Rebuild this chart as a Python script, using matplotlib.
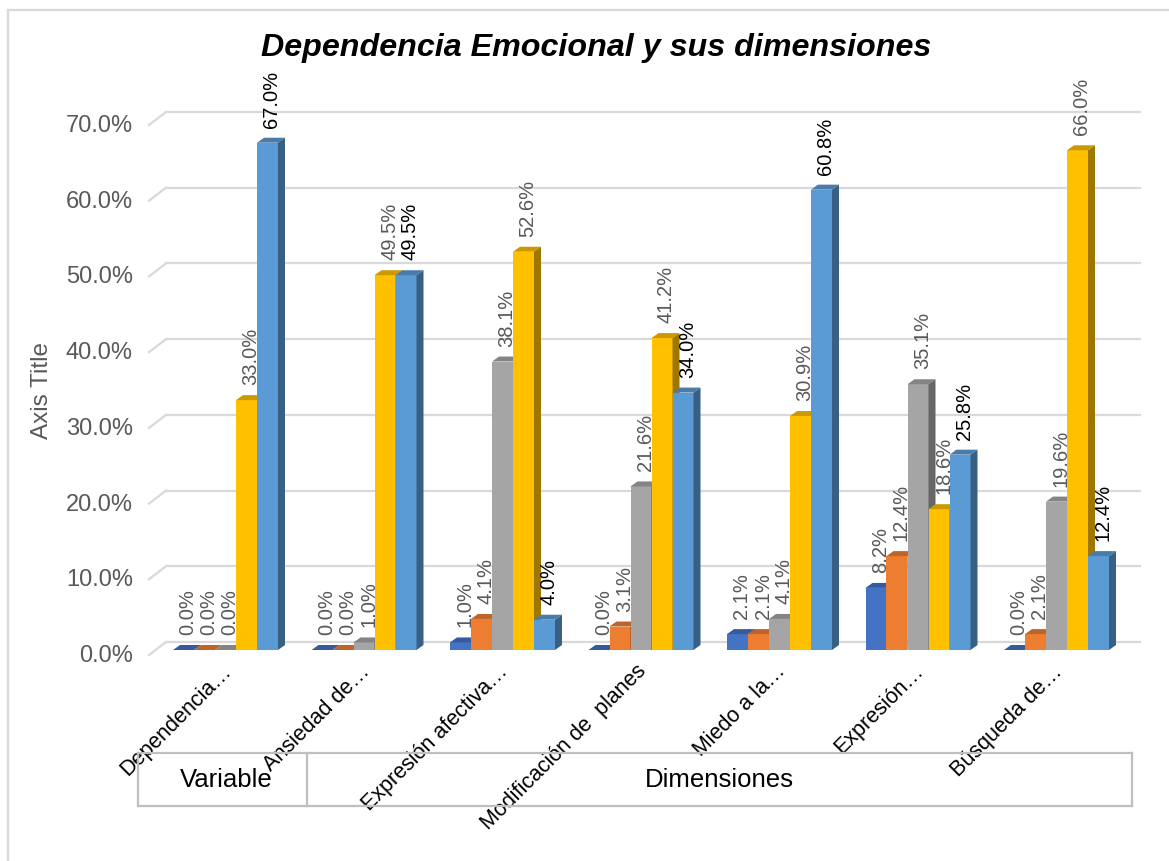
import matplotlib
matplotlib.use("Agg")
import matplotlib.pyplot as plt
from matplotlib.patches import Polygon
from matplotlib.lines import Line2D
import numpy as np

plt.rcParams['font.family'] = ['Liberation Sans', 'DejaVu Sans']

categories = ["Dependencia…", "Ansiedad de…", "Expresión afectiva…",
              "Modificación de  planes", "Miedo a la…", "Expresión…", "Búsqueda de…"]
series_colors = ["#4472C4", "#ED7D31", "#A5A5A5", "#FFC000", "#5B9BD5"]
s1 = [0.0, 0.0, 1.0, 0.0, 2.1, 8.2, 0.0]
s2 = [0.0, 0.0, 4.1, 3.1, 2.1, 12.4, 2.1]
s3 = [0.0, 1.0, 38.1, 21.6, 4.1, 35.1, 19.6]
s4 = [33.0, 49.5, 52.6, 41.2, 30.9, 18.6, 66.0]
s5 = [67.0, 49.5, 4.0, 34.0, 60.8, 25.8, 12.4]
series = [s1, s2, s3, s4, s5]
yticks = [0, 10, 20, 30, 40, 50, 60, 70]
ytick_labels = ["0.0%", "10.0%", "20.0%", "30.0%", "40.0%", "50.0%", "60.0%", "70.0%"]
title = "Dependencia Emocional y sus dimensiones"
ylabel = "Axis Title"
group_labels = ["Variable", "Dimensiones"]

W, H = 1169, 861
fig = plt.figure(figsize=(W / 100, H / 100), dpi=100)

def fx(px):
    return px / W

def fy(py):
    return 1 - py / H

# axes geometry (pixels)
cat0 = 225.5
catw = 138.5
L_px, R_px = 149.0, 1123.0
y0_px, y70_px = 650.0, 120.0
xmin = (L_px - cat0) / catw
xmax = (R_px - cat0) / catw
ax = fig.add_axes([fx(L_px), fy(y0_px), fx(R_px) - fx(L_px), fy(y70_px) - fy(y0_px)])
ax.set_xlim(xmin, xmax)
ax.set_ylim(0, 70)
ax.axis('off')

pxy = (y0_px - y70_px) / 70.0  # pixels per %
def dxp(p):
    return p / catw
def dyp(p):
    return p / pxy

# gridlines on back and side walls
gcol = "#D9D9D9"
for v in yticks:
    ax.add_line(Line2D([xmin, xmin + dxp(17)], [v - dyp(5), v + dyp(8)], color=gcol, lw=1.6,
                       clip_on=False, zorder=0))
    ax.add_line(Line2D([xmin + dxp(17), xmax + dxp(17)], [v + dyp(8), v + dyp(8)], color=gcol,
                       lw=1.6, clip_on=False, zorder=0))

# y tick labels
for v, lab in zip(yticks, ytick_labels):
    ax.annotate(lab, xy=(xmin, v), xytext=(-16, -6), textcoords='offset pixels',
                ha='right', va='center', fontsize=17, color='#595959', annotation_clip=False)

def shade(c, f):
    c = np.array(matplotlib.colors.to_rgb(c))
    return tuple(c * f)

bw = 21 / catw
ddx, ddy = dxp(7), dyp(5)
x = np.arange(len(categories))
z = 2
for i in range(len(categories)):
    for j, s in enumerate(series):
        v = s[i]
        xc = x[i] + (j - 2) * bw
        x0, x1 = xc - bw / 2, xc + bw / 2
        col = series_colors[j]
        ax.bar(xc, v, width=bw, color=col, zorder=z, linewidth=0)
        ax.add_patch(Polygon([(x0, v), (x1, v), (x1 + ddx, v + ddy), (x0 + ddx, v + ddy)],
                             closed=True, facecolor=shade(col, 0.8), edgecolor='none',
                             zorder=z, clip_on=False))
        ax.add_patch(Polygon([(x1, 0), (x1, v), (x1 + ddx, v + ddy), (x1 + ddx, ddy)],
                             closed=True, facecolor=shade(col, 0.62), edgecolor='none',
                             zorder=z, clip_on=False))
        z += 1

# data labels
for i in range(len(categories)):
    for j, s in enumerate(series):
        v = s[i]
        xc = x[i] + (j - 2) * bw
        ax.annotate(f"{v:.1f}%", xy=(xc + ddx / 2, v + ddy), xytext=(1, 10),
                    textcoords='offset pixels', rotation=90, ha='center', va='bottom',
                    fontsize=14.5, color='#000000' if j == 4 else '#595959',
                    annotation_clip=False, zorder=200)

# category labels
for i, lab in enumerate(categories):
    ax.annotate(lab, xy=(x[i], 0), xytext=(-5, -11), textcoords='offset pixels',
                rotation=45, rotation_mode='anchor', ha='right', va='top',
                fontsize=15.5, color='black', annotation_clip=False)

# title and axis title
fig.text(fx(596), fy(48), title, ha='center', va='center', fontsize=23.2,
         fontweight='bold', fontstyle='italic', color='black')
fig.text(fx(42), fy(390), ylabel, ha='center', va='center', rotation=90,
         fontsize=17.5, color='#595959')

# grouping table below
bcol = "#BFBFBF"
fig.add_artist(Line2D([fx(138), fx(1132)], [fy(753), fy(753)], color=bcol, lw=1.6))
fig.add_artist(Line2D([fx(138), fx(1132)], [fy(806), fy(806)], color=bcol, lw=1.6))
fig.add_artist(Line2D([fx(138), fx(138)], [fy(753), fy(806)], color=bcol, lw=1.6))
fig.add_artist(Line2D([fx(1132), fx(1132)], [fy(753), fy(806)], color=bcol, lw=1.6))
fig.add_artist(Line2D([fx(307), fx(307)], [fy(753), fy(806)], color=bcol, lw=1.6))
fig.text(fx(226), fy(780), group_labels[0], ha='center', va='center', fontsize=18.5, color='black')
fig.text(fx(719), fy(780), group_labels[1], ha='center', va='center', fontsize=18.5, color='black')

# chart border
fig.add_artist(Line2D([fx(8), fx(8)], [fy(10), fy(H + 5)], color="#D9D9D9", lw=1.6))
fig.add_artist(Line2D([fx(8), fx(W + 5)], [fy(10), fy(10)], color="#D9D9D9", lw=1.6))

fig.savefig("out.png", dpi=100)
